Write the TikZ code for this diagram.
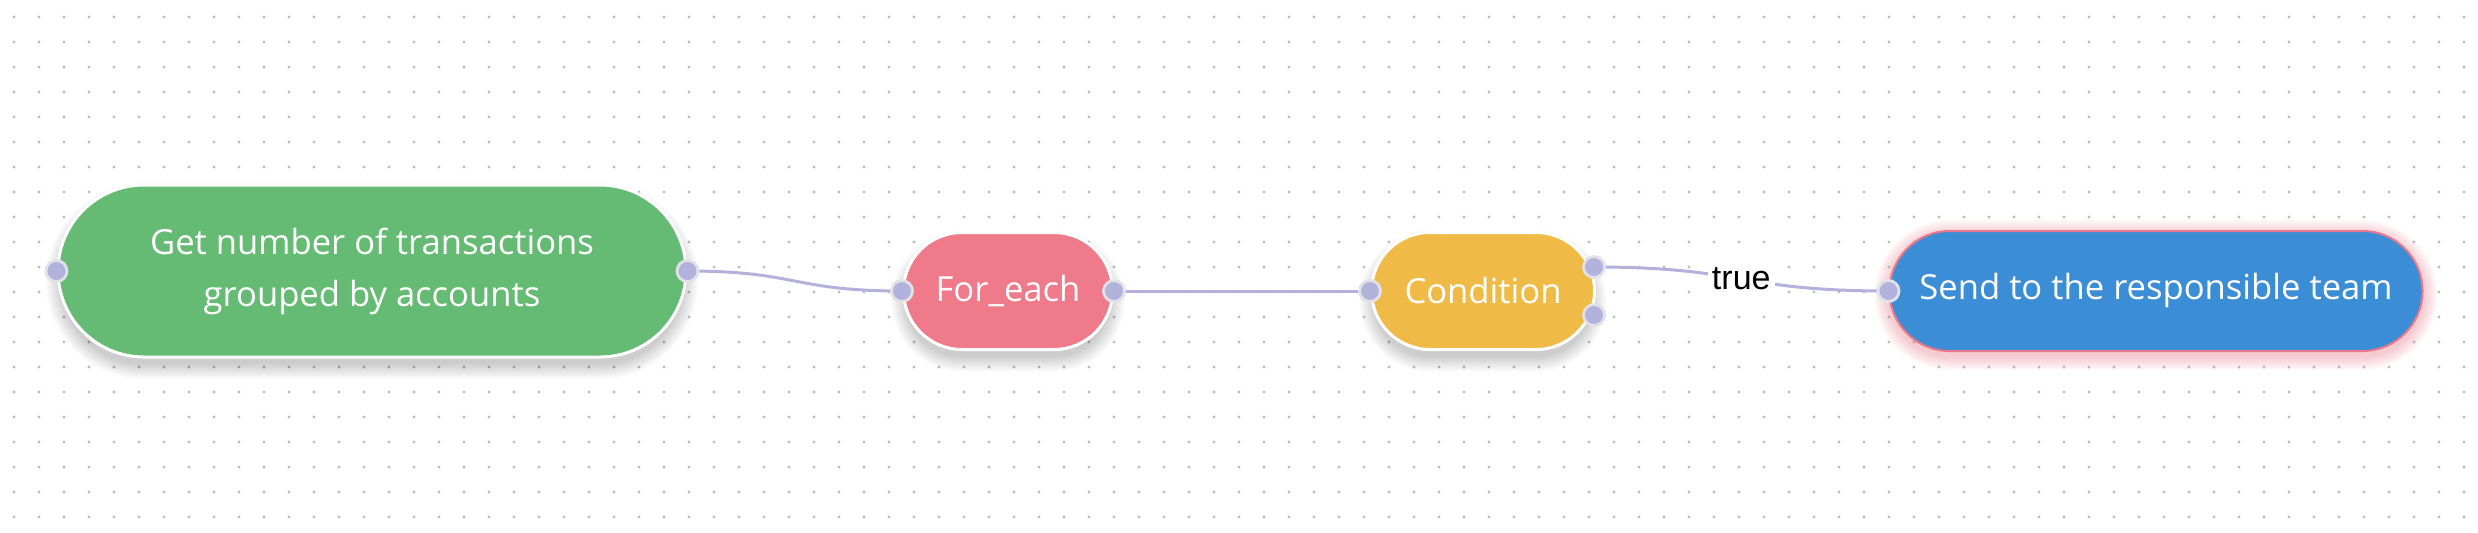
\documentclass[tikz,border=0pt]{standalone}
\usepackage{fontspec}
\setmainfont{Open Sans}
\newfontfamily\labfont{Liberation Sans}
\usetikzlibrary{shapes.misc,calc}
\definecolor{cgreen}{HTML}{66BB74}
\definecolor{cpink}{HTML}{EE7A8A}
\definecolor{cyellow}{HTML}{EFBB46}
\definecolor{cblue}{HTML}{3B8DD5}
\definecolor{chandle}{HTML}{B2B2DC}
\definecolor{chandleb}{HTML}{E1E1E8}
\definecolor{cedge}{HTML}{B4B0DC}
\definecolor{cglow}{HTML}{E8788A}
\definecolor{cdot}{HTML}{BDBDBD}
\newcommand\softshadow[8]{% cx cy w h color dy opacity step
  \foreach \k in {1,...,10}{%
    \pgfmathsetmacro\rr{(#4/2+\k*#8)*0.5-0.05}%
    \fill[#5, opacity=#7, rounded corners=\rr pt]
      ({#1-#3/2-\k*#8},{#2-#4/2-\k*#8+#6}) rectangle ({#1+#3/2+\k*#8},{#2+#4/2+\k*#8+#6});
  }}
\tikzset{
  pill/.style={rounded rectangle, draw=white, line width=1.5pt, text=white, inner sep=0pt,
    font=\fontsize{17.3}{26}\selectfont, align=center},
  handle/.style={circle, fill=chandle, draw=chandleb, line width=1.4pt, minimum size=10.5pt, inner sep=0pt},
  edge/.style={draw=cedge, line width=1.5pt},
  elabel/.style={fill=white, text=black, inner sep=2pt, font=\labfont\fontsize{17}{20}\selectfont}
}
\begin{document}
\begin{tikzpicture}[x=0.5pt,y=-0.5pt]
\useasboundingbox (0,0) rectangle (2478,532);
\fill[white] (0,0) rectangle (2478,532);
% dot grid
\foreach \i in {0,...,98}{\foreach \j in {0,...,20}{\fill[cdot] ({14+25*\i},{17+25*\j}) circle (0.8pt);}}
% shadows
\softshadow{372}{271}{620}{164}{black}{10}{0.018}{1.6}
\softshadow{1008}{291}{201}{109}{black}{10}{0.018}{1.6}
\softshadow{1483}{291}{215}{109}{black}{10}{0.018}{1.6}
\softshadow{2156}{291}{533}{120}{cglow}{4}{0.045}{1.5}
% nodes
\node[pill, fill=cgreen, minimum width=314pt, minimum height=86pt] (get) at (372,271)
  {Get number of transactions\\grouped by accounts};
\node[pill, fill=cpink, minimum width=104.5pt, minimum height=58.5pt] (fe) at (1008,291) {For\_each};
\node[pill, fill=cyellow, minimum width=111.5pt, minimum height=58.5pt] (cond) at (1483,291) {Condition};
\node[pill, fill=cblue, draw=cglow, line width=1pt, minimum width=266.5pt, minimum height=60pt] (send) at (2156,291)
  {Send to the responsible team};
% handle positions
\coordinate (cA) at ($(cond.east)+(-2,-24)$);
\coordinate (cB) at ($(cond.east)+(-2,24)$);
% connectors
\draw[edge] (get.east) .. controls +(110,0) and +(-110,0) .. (fe.west);
\draw[edge] (fe.east) -- (cond.west);
\draw[edge] (cA) .. controls +(150,0) and +(-150,0) .. node[elabel, pos=0.5] {true} (send.west);
% handles
\node[handle] (getL) at (get.west) {};
\node[handle] (getR) at (get.east) {};
\node[handle] (feL) at (fe.west) {};
\node[handle] (feR) at (fe.east) {};
\node[handle] (condL) at (cond.west) {};
\node[handle] (condT) at (cA) {};
\node[handle] (condF) at (cB) {};
\node[handle] (sendL) at (send.west) {};
\end{tikzpicture}
\end{document}
